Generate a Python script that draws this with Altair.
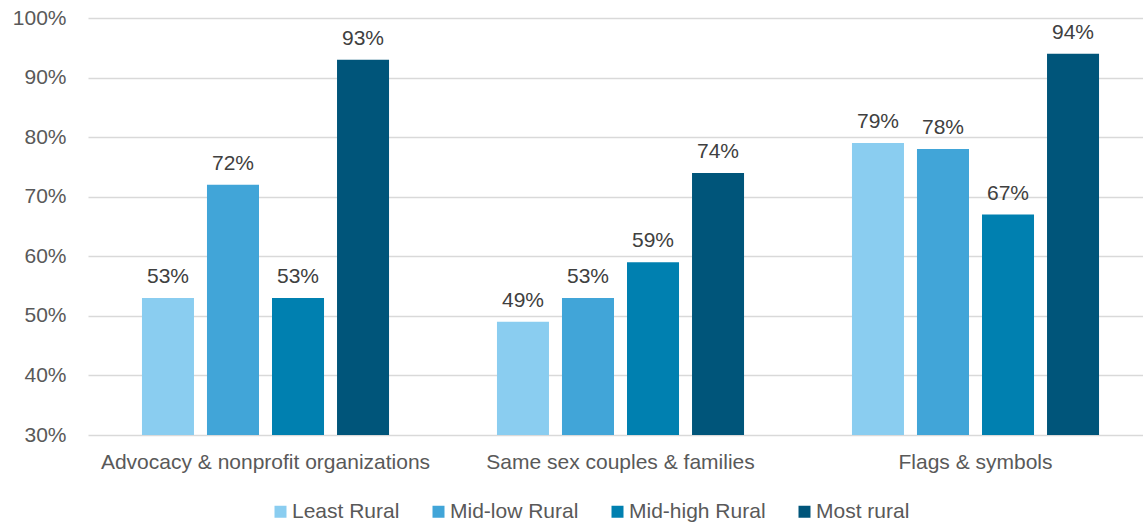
import altair as alt
import pandas as pd

categories = ["Advocacy & nonprofit organizations", "Same sex couples & families", "Flags & symbols"]
series = ["Least Rural", "Mid-low Rural", "Mid-high Rural", "Most rural"]
least_rural = [0.53, 0.49, 0.79]
midlow_rural = [0.72, 0.53, 0.78]
midhigh_rural = [0.53, 0.59, 0.67]
most_rural = [0.93, 0.74, 0.94]
colors = ["#8ACDF0", "#41A5D8", "#0080B0", "#00557A"]

rows = []
for s, vals in zip(series, [least_rural, midlow_rural, midhigh_rural, most_rural]):
    for c, v in zip(categories, vals):
        rows.append({"category": c, "series": s, "value": v})
df = pd.DataFrame(rows)

FONT = "Liberation Sans"
FS = 21

x = alt.X("category:N", sort=categories, title=None,
          scale=alt.Scale(range=[2, 1067], paddingInner=0, paddingOuter=0),
          axis=alt.Axis(labelAngle=0, domain=False, ticks=False, labelPadding=16,
                        labelFontSize=FS, labelColor="#595959", labelFont=FONT,
                        labelLimit=0, grid=False))
xo = alt.XOffset("series:N", sort=series,
                 scale=alt.Scale(paddingInner=0.2, paddingOuter=0.83))
y = alt.Y("value:Q", title=None,
          scale=alt.Scale(domain=[0.3, 1.0], zero=False, nice=False),
          axis=alt.Axis(format=".0%", values=[0.3, 0.4, 0.5, 0.6, 0.7, 0.8, 0.9, 1.0],
                        domain=False, ticks=False, labelPadding=20, labelFontSize=FS,
                        labelColor="#595959", labelFont=FONT, gridColor="#D9D9D9",
                        gridWidth=1.5))

bars = alt.Chart(df).mark_bar().encode(
    x=x, xOffset=xo, y=y, y2=alt.datum(0.3),
    color=alt.Color("series:N", sort=series,
                    scale=alt.Scale(domain=series, range=colors),
                    legend=alt.Legend(title=None, orient="none", direction="horizontal",
                                      legendX=184, legendY=483, symbolType="square",
                                      symbolSize=144, symbolStrokeWidth=0,
                                      labelFontSize=FS, labelColor="#595959",
                                      labelFont=FONT, labelOffset=1, columnPadding=28,
                                      labelLimit=0)),
)

labels = alt.Chart(df).mark_text(dy=-15, baseline="alphabetic", fontSize=FS,
                                 color="#404040", font=FONT).encode(
    x=alt.X("category:N", sort=categories), xOffset=alt.XOffset("series:N", sort=series),
    y="value:Q", text=alt.Text("value:Q", format=".0%"))

chart = (bars + labels).properties(
    width=1057, height=417,
    autosize=alt.AutoSizeParams(type="none"),
    padding={"left": 86, "top": 18, "right": 0, "bottom": 90},
).configure_view(stroke=None)

chart.save("out.html", embed_options={"renderer": "svg", "actions": False})
